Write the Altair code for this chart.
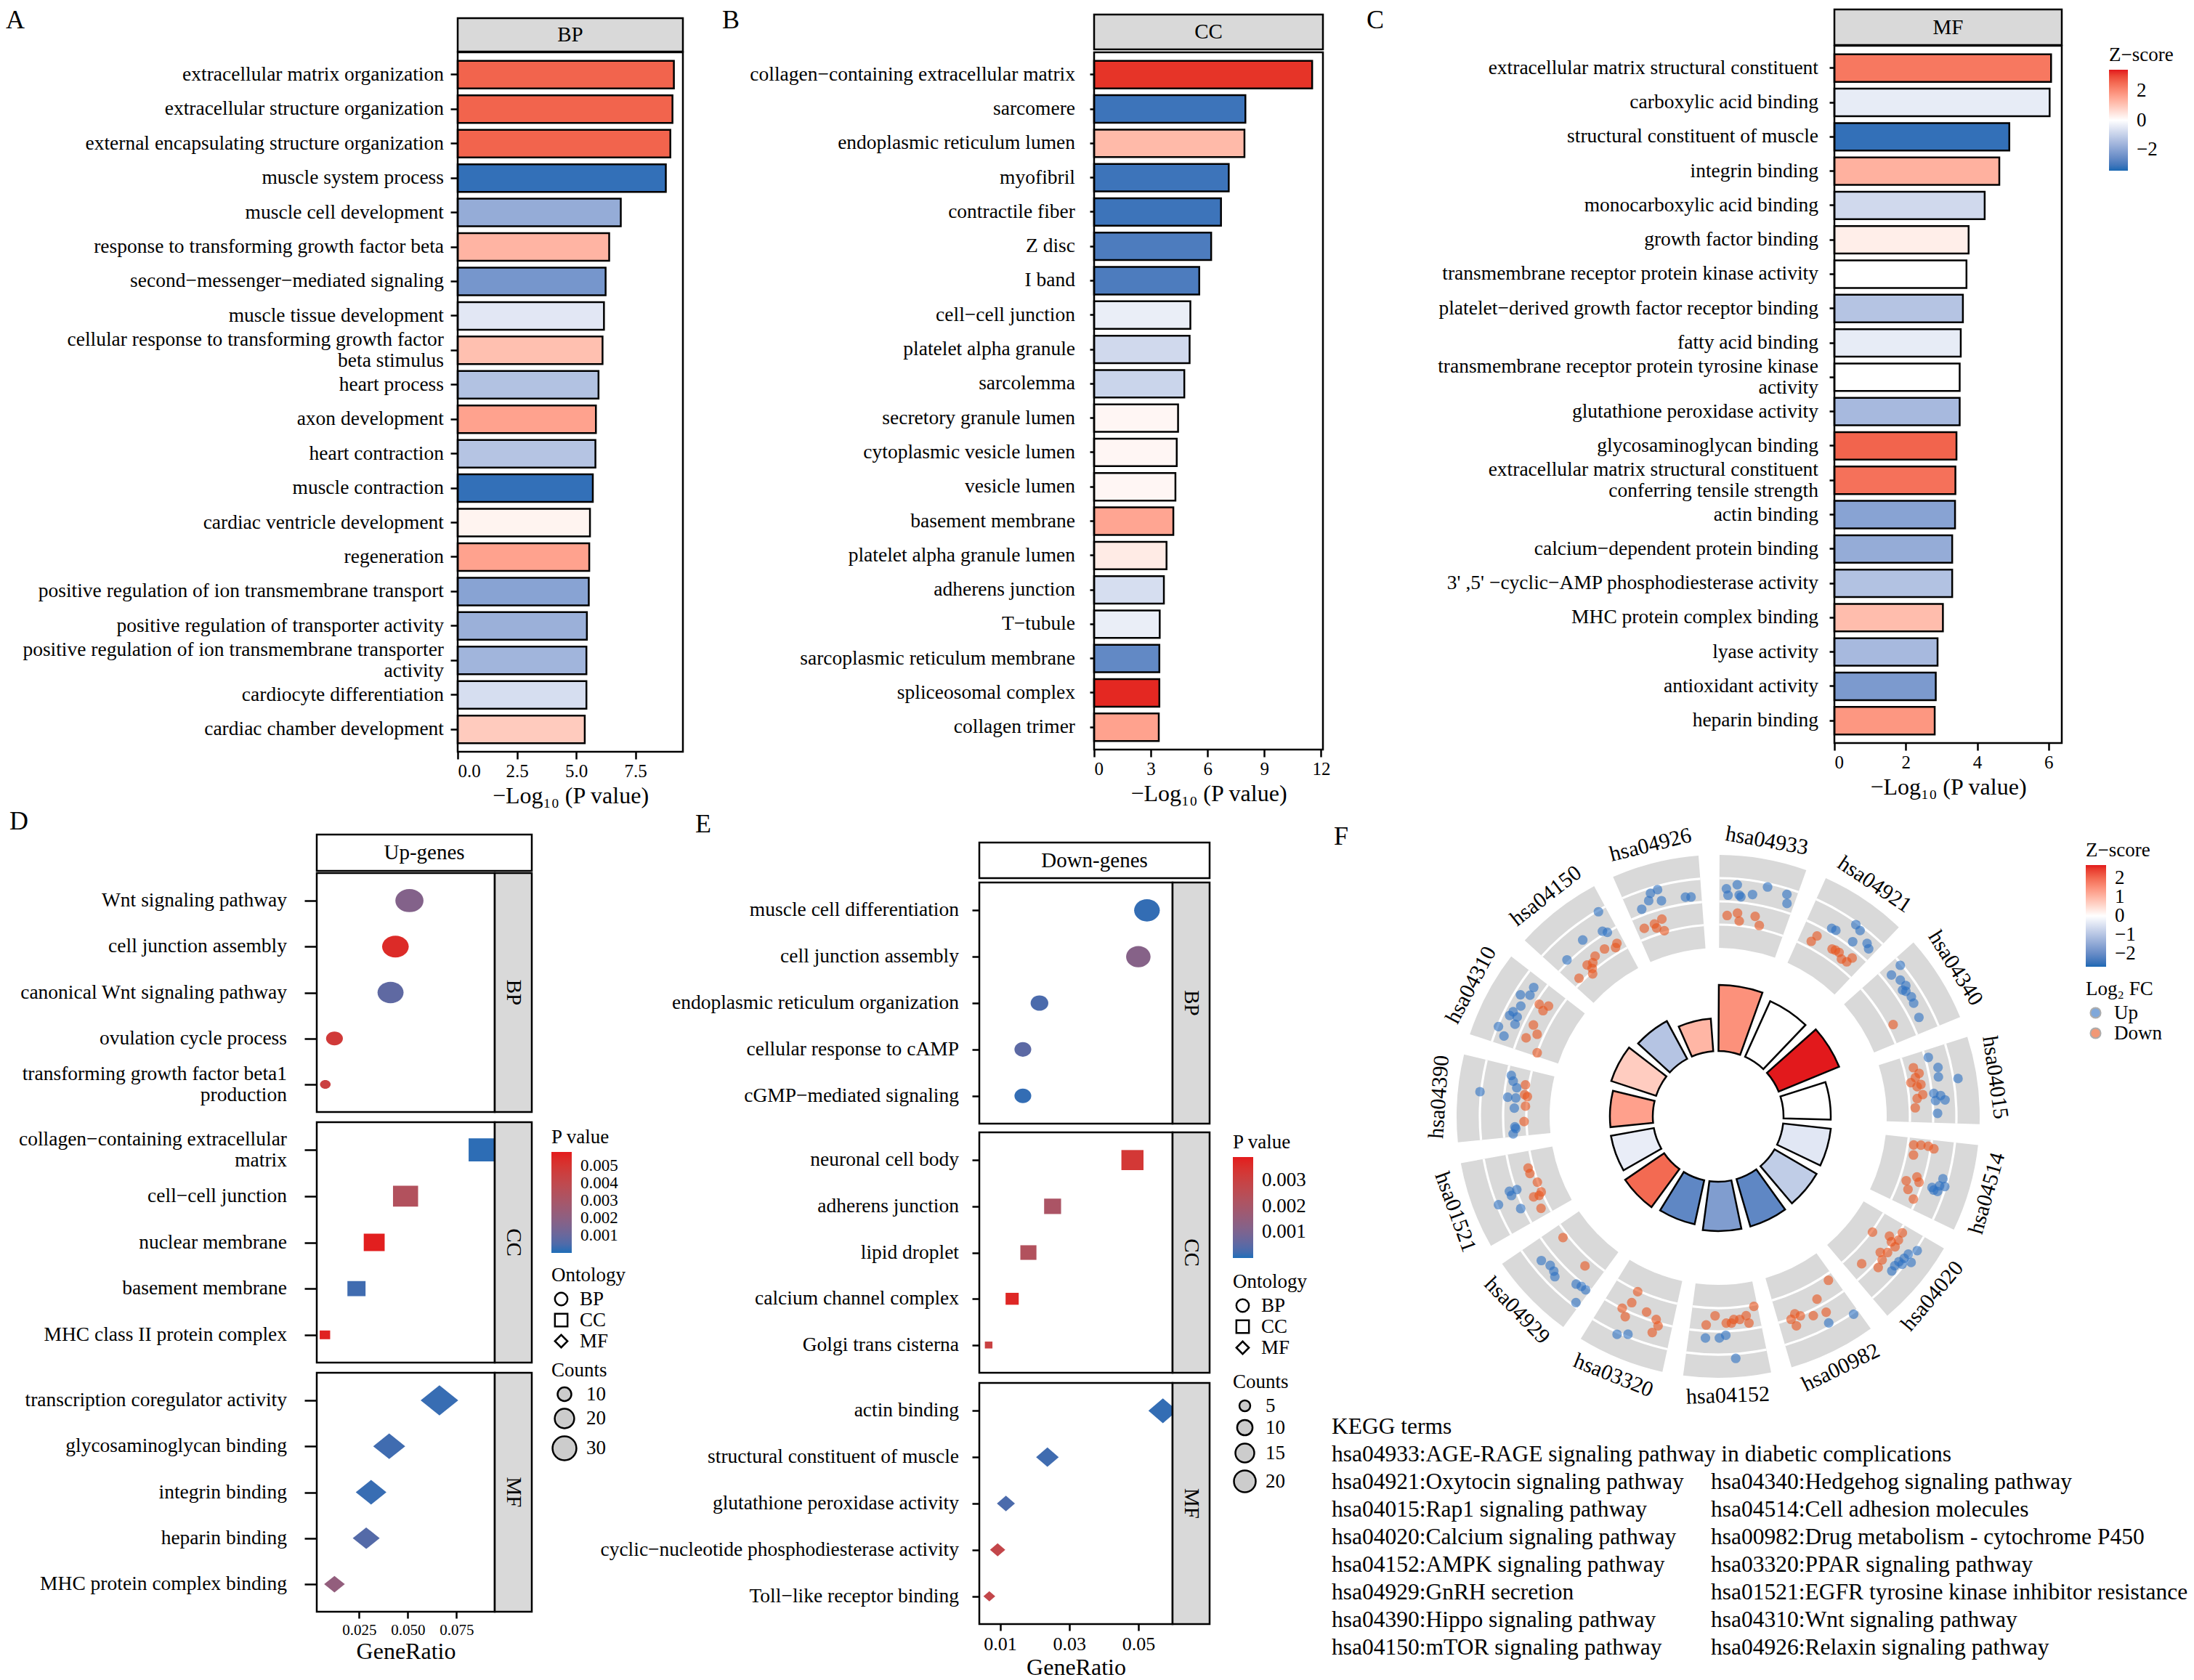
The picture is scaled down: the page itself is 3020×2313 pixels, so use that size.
import math
import altair as alt
import pandas as pd

FONT = "Liberation Serif"
Z_LOW, Z_HIGH = "#1b68b3", "#e2191c"
P_LOW, P_HIGH = "#1f6eb8", "#e41a1c"
STRIP_GREY = "#d9d9d9"
UP_COL, DOWN_COL = "#2c6fc2", "#e8541c"

# ---------------- A: GO BP ----------------
bp_terms = ["extracellular matrix organization", "extracellular structure organization",
            "external encapsulating structure organization", "muscle system process",
            "muscle cell development", "response to transforming growth factor beta",
            "second−messenger−mediated signaling", "muscle tissue development",
            "cellular response to transforming growth factor|beta stimulus", "heart process",
            "axon development", "heart contraction", "muscle contraction",
            "cardiac ventricle development", "regeneration",
            "positive regulation of ion transmembrane transport",
            "positive regulation of transporter activity",
            "positive regulation of ion transmembrane transporter|activity",
            "cardiocyte differentiation", "cardiac chamber development"]
bp_logp = [9.12, 9.06, 8.97, 8.78, 6.88, 6.39, 6.24, 6.17, 6.11, 5.94,
           5.83, 5.81, 5.70, 5.58, 5.55, 5.53, 5.45, 5.43, 5.43, 5.36]
bp_z = [2.6, 2.6, 2.6, -3.2, -1.8, 1.3, -2.3, -0.5, 1.1, -1.3,
        1.6, -1.25, -3.2, 0.2, 1.6, -2.0, -1.7, -1.6, -0.7, 0.9]

# ---------------- B: GO CC ----------------
cc_terms = ["collagen−containing extracellular matrix", "sarcomere", "endoplasmic reticulum lumen",
            "myofibril", "contractile fiber", "Z disc", "I band", "cell−cell junction",
            "platelet alpha granule", "sarcolemma", "secretory granule lumen",
            "cytoplasmic vesicle lumen", "vesicle lumen", "basement membrane",
            "platelet alpha granule lumen", "adherens junction", "T−tubule",
            "sarcoplasmic reticulum membrane", "spliceosomal complex", "collagen trimer"]
cc_logp = [11.53, 8.0, 7.95, 7.12, 6.71, 6.19, 5.56, 5.09, 5.05, 4.77,
           4.44, 4.37, 4.30, 4.19, 3.83, 3.69, 3.47, 3.45, 3.45, 3.42]
cc_z = [3.2, -3.1, 1.2, -3.1, -3.1, -2.9, -2.9, -0.35, -0.8, -0.9,
        0.15, 0.15, 0.15, 1.55, 0.35, -0.7, -0.35, -2.6, 3.3, 1.6]

# ---------------- C: GO MF ----------------
mf_terms = ["extracellular matrix structural constituent", "carboxylic acid binding",
            "structural constituent of muscle", "integrin binding", "monocarboxylic acid binding",
            "growth factor binding", "transmembrane receptor protein kinase activity",
            "platelet−derived growth factor receptor binding", "fatty acid binding",
            "transmembrane receptor protein tyrosine kinase|activity",
            "glutathione peroxidase activity", "glycosaminoglycan binding",
            "extracellular matrix structural constituent|conferring tensile strength",
            "actin binding", "calcium−dependent protein binding",
            "3' ,5' −cyclic−AMP phosphodiesterase activity", "MHC protein complex binding",
            "lyase activity", "antioxidant activity", "heparin binding"]
mf_logp = [6.07, 6.03, 4.90, 4.62, 4.21, 3.76, 3.70, 3.60, 3.54, 3.51,
           3.51, 3.42, 3.39, 3.38, 3.30, 3.30, 3.04, 2.89, 2.84, 2.81]
mf_z = [2.3, -0.4, -3.2, 1.35, -0.8, 0.3, 0.0, -1.25, -0.4, 0.0,
        -1.5, 2.6, 2.4, -2.0, -1.8, -1.3, 1.15, -1.5, -2.2, 1.8]

# ---------------- D: Up-genes ----------------
up_bp_terms = ["Wnt signaling pathway", "cell junction assembly", "canonical Wnt signaling pathway",
               "ovulation cycle process", "transforming growth factor beta1|production"]
up_bp_ratio = [0.0508, 0.0436, 0.0411, 0.0123, 0.0076]
up_bp_p = [0.0017, 0.0054, 0.0008, 0.0048, 0.0045]
up_bp_count = [28, 25, 24, 10, 4]

up_cc_terms = ["collagen−containing extracellular|matrix", "cell−cell junction", "nuclear membrane",
               "basement membrane", "MHC class II protein complex"]
up_cc_ratio = [0.0883, 0.0488, 0.0327, 0.0236, 0.0074]
up_cc_p = [0.0001, 0.0034, 0.0057, 0.0003, 0.0056]
up_cc_count = [28, 23, 16, 12, 4]

up_mf_terms = ["transcription coregulator activity", "glycosaminoglycan binding", "integrin binding",
               "heparin binding", "MHC protein complex binding"]
up_mf_ratio = [0.0662, 0.0404, 0.0311, 0.0286, 0.0123]
up_mf_p = [0.0002, 0.0003, 0.0002, 0.0006, 0.0022]
up_mf_count = [33, 24, 22, 17, 10]

# ---------------- E: Down-genes ----------------
dn_bp_terms = ["muscle cell differentiation", "cell junction assembly",
               "endoplasmic reticulum organization", "cellular response to cAMP",
               "cGMP−mediated signaling"]
dn_bp_ratio = [0.0525, 0.0500, 0.0214, 0.0166, 0.0166]
dn_bp_p = [0.0001, 0.0012, 0.0003, 0.0005, 0.0001]
dn_bp_count = [21, 19, 10, 9, 9]

dn_cc_terms = ["neuronal cell body", "adherens junction", "lipid droplet",
               "calcium channel complex", "Golgi trans cisterna"]
dn_cc_ratio = [0.0483, 0.0252, 0.0182, 0.0135, 0.0067]
dn_cc_p = [0.0033, 0.0021, 0.0023, 0.0037, 0.0030]
dn_cc_count = [17, 10, 9, 6, 2]

dn_mf_terms = ["actin binding", "structural constituent of muscle", "glutathione peroxidase activity",
               "cyclic−nucleotide phosphodiesterase activity", "Toll−like receptor binding"]
dn_mf_ratio = [0.0571, 0.0237, 0.0117, 0.0093, 0.0069]
dn_mf_p = [0.0001, 0.0002, 0.0003, 0.0028, 0.0028]
dn_mf_count = [18, 11, 7, 5, 3]

# ---------------- F: KEGG circle ----------------
kegg_ids = ["hsa04933", "hsa04921", "hsa04340", "hsa04015", "hsa04514", "hsa04020", "hsa00982",
            "hsa04152", "hsa03320", "hsa04929", "hsa01521", "hsa04390", "hsa04310", "hsa04150",
            "hsa04926"]
kegg_height = [9.1, 8.4, 9.0, 6.5, 6.6, 6.7, 6.8, 6.8, 6.2, 6.5, 6.0, 5.9, 6.5, 5.9, 4.5]
kegg_z = [1.5, 0.0, 2.7, 0.0, -0.4, -0.85, -2.1, -1.7, -2.1, 2.0, -0.3, 1.3, 0.7, -1.0, 1.0]
grid_lfc = [-2, 0, 2]

# gene points per term: (position within sector, log2FC)
up_04933 = [(-0.33, 1.1), (-0.22, 1.5), (-0.19, 0.63), (-0.31, 0.55), (-0.05, 0.82), (-0.17, 0.49), (0.09, 1.69), (0.30, 1.5), (0.33, 0.75)]
dn_04933 = [(-0.31, -1.2), (-0.19, -0.93), (-0.16, -1.6), (0.02, -1.0), (0.09, -1.7)]
up_04921 = [(-0.07, 0.44), (0.07, 1.81), (0.14, 1.62), (0.15, 0.47), (0.28, 1.14), (0.33, 0.88), (-0.12, 0.4)]
dn_04921 = [(-0.25, -1.44), (-0.22, -0.8), (0.01, -1.08), (0.10, -0.97), (0.17, -1.3), (0.24, -1.2), (0.26, -0.65), (0.05, -1.0)]
up_04340 = [(-0.32, 1.86), (-0.30, 0.74), (-0.20, 1.07), (-0.12, 1.18), (-0.07, 0.91), (0.01, 1.05), (0.08, 0.94), (0.24, 0.76), (-0.10, 0.73)]
dn_04340 = [(0.18, -1.5)]
up_04015 = [(-0.32, 0.28), (-0.19, 0.88), (-0.09, 0.75), (-0.04, 2.39), (0.08, 0.16), (0.11, 0.72), (0.16, 1.07), (0.16, 0.26), (0.30, 0.38)]
dn_04015 = [(-0.25, -1.19), (-0.17, -0.82), (-0.13, -1.21), (-0.08, -1.67), (-0.04, -0.84), (-0.02, -1.19), (0.08, -0.8), (0.12, -1.31), (0.23, -1.53)]
up_04514 = [(-0.02, 1.57), (0.06, 1.45), (0.12, 1.1), (0.05, 1.91), (0.10, 0.89), (0.12, 1.45)]
dn_04514 = [(-0.20, -1.37), (-0.33, -0.88), (-0.33, -0.24), (-0.31, 0.27), (-0.32, -1.5), (0.04, -0.62), (0.12, -1.4), (0.21, -1.0), (0.29, -0.26), (0.09, -0.31)]
up_04020 = [(-0.11, 1.63), (-0.12, 2.32), (-0.17, 1.7), (-0.25, 2.16), (-0.05, 1.45), (0.07, 1.5), (0.01, 1.4), (-0.05, 1.81)]
dn_04020 = [(-0.13, -1.9), (-0.21, -0.52), (-0.32, 0.25), (-0.17, -0.1), (-0.23, 0.31), (-0.05, 0.2), (0.0, -0.29), (0.05, 0.25), (0.24, -0.8), (0.14, 0.44), (-0.15, 0.41)]
up_00982 = [(-0.35, 2.13), (-0.09, 1.66)]
dn_00982 = [(-0.33, -1.5), (-0.10, -0.62), (-0.12, 0.74), (0.02, 0.5), (0.20, -0.27), (0.26, 0.06), (0.23, 0.74), (0.15, 0.06)]
up_04152 = [(0.22, 0.6), (0.07, 0.57), (0.0, 0.35), (-0.09, 2.38)]
dn_04152 = [(-0.36, -1.86), (-0.25, -1.18), (-0.17, -0.93), (-0.07, -0.68), (-0.01, -0.7), (0.12, -1.34), (0.22, -0.52), (-0.27, -0.52), (-0.10, -0.97)]
up_03320 = [(0.12, 2.17), (0.02, 1.79)]
dn_03320 = [(0.11, -1.9), (0.12, -0.83), (0.19, -0.04), (0.12, 0.5), (-0.08, -0.57), (-0.21, -0.23), (-0.25, 0.25), (-0.21, 0.94)]
up_04929 = [(0.2, 1.13), (0.1, 0.82), (0.03, 0.92), (-0.02, 1.19), (-0.24, 0.41), (-0.3, 0.28), (-0.36, 0.28), (-0.36, 1.66)]
dn_04929 = [(0.25, -1.56), (-0.18, -1.27)]
up_01521 = [(0.01, 0.58), (0.0, -0.07), (-0.08, 1.87), (-0.21, 0.25), (-0.04, 0.54)]
dn_01521 = [(0.2, -1.56), (0.13, -1.58), (0.0, -1.95), (-0.13, -1.95), (-0.15, -1.18), (-0.31, -1.33), (-0.16, -1.67)]
up_04390 = [(0.08, 2.1), (0.3, -0.36), (0.24, -0.61), (0.17, -1.0), (0.05, -0.32), (0.05, -1.02), (-0.07, -0.95), (-0.29, -0.99), (-0.37, -0.8), (-0.31, -1.06)]
dn_04390 = [(0.22, -1.7), (0.1, -1.75), (-0.04, -1.9), (-0.23, -1.8), (0.08, -2.0)]
up_04310 = [(0.29, 0.86), (0.15, 1.47), (0.2, 0.76), (0.05, 0.95), (-0.04, 1.3), (-0.09, 1.43), (-0.07, 0.79), (-0.15, 0.69), (-0.24, 1.92), (-0.31, 1.18)]
dn_04310 = [(0.17, -0.33), (0.21, -1.09), (0.13, -0.9), (-0.07, -0.77), (-0.15, -1.4), (-0.24, -0.65), (-0.36, -2.0)]
up_04150 = [(0.32, 1.9), (0.25, 0.28), (0.29, -0.02), (0.02, 0.63), (-0.25, 0.22)]
dn_04150 = [(0.32, -1.25), (0.28, -1.5), (0.16, -1.09), (0.02, -1.12), (-0.05, -1.44), (-0.12, -1.28), (-0.1, -1.78), (-0.14, -2.16), (-0.3, -1.63)]
up_04926 = [(-0.04, 1.69), (-0.12, 1.56), (-0.26, 0.5), (-0.16, 1.0), (-0.03, 0.69), (0.23, 0.58), (0.29, 0.52)]
dn_04926 = [(-0.31, -1.12), (-0.18, -1.06), (-0.08, -0.85), (-0.17, -1.44), (-0.09, -1.87)]

up_sets = [up_04933, up_04921, up_04340, up_04015, up_04514, up_04020, up_00982, up_04152,
           up_03320, up_04929, up_01521, up_04390, up_04310, up_04150, up_04926]
dn_sets = [dn_04933, dn_04921, dn_04340, dn_04015, dn_04514, dn_04020, dn_00982, dn_04152,
           dn_03320, dn_04929, dn_01521, dn_04390, dn_04310, dn_04150, dn_04926]

kegg_left = ["KEGG terms",
             "hsa04933:AGE-RAGE signaling pathway in diabetic complications",
             "hsa04921:Oxytocin signaling pathway", "hsa04015:Rap1 signaling pathway",
             "hsa04020:Calcium signaling pathway", "hsa04152:AMPK signaling pathway",
             "hsa04929:GnRH secretion", "hsa04390:Hippo signaling pathway",
             "hsa04150:mTOR signaling pathway"]
kegg_right = ["hsa04340:Hedgehog signaling pathway", "hsa04514:Cell adhesion molecules",
              "hsa00982:Drug metabolism - cytochrome P450", "hsa03320:PPAR signaling pathway",
              "hsa01521:EGFR tyrosine kinase inhibitor resistance", "hsa04310:Wnt signaling pathway",
              "hsa04926:Relaxin signaling pathway"]

# ---------------- layout helpers (one big canvas) ----------------
VW, VH = 3004, 2305


def px(v):
    """reference-figure pixel -> canvas pixel (page has an 8px margin)"""
    return v - 8


def one(text):
    return pd.DataFrame({"lab": [text]})


def box(x0, x1, y0, y1, fill="transparent", sw=2.5):
    return alt.Chart(one("")).mark_rect(fill=fill, stroke="black", strokeWidth=sw).encode(
        x=alt.value(px(x0)), x2=alt.value(px(x1)), y=alt.value(px(y0)), y2=alt.value(px(y1)))


def label(text, x, y, size, angle=0):
    return alt.Chart(one(text)).mark_text(fontSize=size, align="center", baseline="middle",
                                          angle=angle, font=FONT, color="black").encode(
        x=alt.value(px(x)), y=alt.value(px(y)), text="lab:N")


def term_labels(df, yenc, xr, size, half):
    base = alt.Chart(df)
    kw = dict(align="right", baseline="middle", fontSize=size, font=FONT, color="black")
    single = base.transform_filter("indexof(datum.term, '|') < 0").mark_text(**kw).encode(
        x=alt.value(px(xr)), y=yenc, text="term:N")
    two = base.transform_filter("indexof(datum.term, '|') >= 0").transform_calculate(
        l1="split(datum.term, '|')[0]", l2="split(datum.term, '|')[1]")
    t1 = two.mark_text(dy=-half, **kw).encode(x=alt.value(px(xr)), y=yenc, text="l1:N")
    t2 = two.mark_text(dy=half, **kw).encode(x=alt.value(px(xr)), y=yenc, text="l2:N")
    return [single, t1, t2]


zscale = alt.Scale(domain=[-3.4, 0, 3.4], range=[Z_LOW, "#ffffff", Z_HIGH], interpolate="lab")


def bar_panel(terms, vals, zs, xmax, ticks, fmt, x0, x1, y0, y1, tick_len, lab_right, legend,
              strip_txt, sy0, sy1):
    df = pd.DataFrame({"term": terms, "val": vals, "z": zs})
    yaxis = alt.Axis(orient="left", offset=-px(x0), labels=False, tickSize=tick_len, title=None)
    yenc = alt.Y("term:N", sort=terms,
                 scale=alt.Scale(range=[px(y0), px(y1)], paddingInner=0.2, paddingOuter=0.25),
                 axis=yaxis)
    bars = alt.Chart(df).mark_bar(stroke="black", strokeWidth=2.5).encode(
        x=alt.X("val:Q", scale=alt.Scale(domain=[0, xmax], range=[px(x0), px(x1)], nice=False,
                                         zero=True),
                axis=alt.Axis(orient="bottom", offset=-(VH - px(y1)), values=ticks, format=fmt,
                              title="−Log₁₀ (P value)", labelFontSize=25, titleFontSize=32,
                              tickSize=10, labelPadding=4, titlePadding=6)),
        y=yenc,
        color=alt.Color("z:Q", scale=zscale, legend=legend))
    layers = [bars] + term_labels(df, yenc, lab_right, 27.5, 14.5)
    layers += [box(x0, x1, y0, y1), box(x0, x1, sy0, sy1, STRIP_GREY),
               label(strip_txt, (x0 + x1) / 2, (sy0 + sy1) / 2, 29)]
    return alt.layer(*layers)


ELL_D = "M-1.22,0A1.22,1,0,1,1,1.22,0A1.22,1,0,1,1,-1.22,0Z"
ELL_E = "M-1.15,0A1.15,1,0,1,1,1.15,0A1.15,1,0,1,1,-1.15,0Z"
RECT_D = "M-1.2,-1L1.2,-1L1.2,1L-1.2,1Z"
RECT_E = "M-1.1,-1L1.1,-1L1.1,1L-1.1,1Z"
DIAM_D = "M-1.5,0L0,-1.2L1.5,0L0,1.2Z"
DIAM_E = "M-1.4,0L0,-1.2L1.4,0L0,1.2Z"


def dot_facet(terms, ratio, pv, cnt, shape, x0, x1, y0, y1, xdom, pdom, smax, sk, xaxis,
              tick_len, lab_right, strip_txt, legends=None):
    df = pd.DataFrame({"term": terms, "ratio": ratio, "p": pv, "n": cnt})
    cleg, sleg, oleg = (legends if legends is not None else (None, None, None))
    yaxis = alt.Axis(orient="left", offset=-px(x0), labels=False, tickSize=tick_len, title=None)
    yenc = alt.Y("term:N", sort=terms, scale=alt.Scale(range=[px(y0), px(y1)], padding=0.6),
                 axis=yaxis)
    pts = alt.Chart(df).mark_point(filled=True, shape=shape, opacity=1).encode(
        x=alt.X("ratio:Q", scale=alt.Scale(domain=xdom, range=[px(x0), px(x1)], nice=False,
                                           zero=False), axis=xaxis),
        y=yenc,
        color=alt.Color("p:Q", scale=alt.Scale(domain=pdom, range=[P_LOW, P_HIGH],
                                               interpolate="lab"), legend=cleg),
        size=alt.Size("n:Q", scale=alt.Scale(type="linear", domain=[0, smax],
                                             range=[0, smax * sk]), legend=sleg))
    layers = []
    if oleg is not None:
        ont = pd.DataFrame({"Ontology": ["BP", "CC", "MF"]})
        dummy = alt.Chart(ont).mark_point(filled=False, color="black", opacity=1,
                                          strokeWidth=2.5).encode(
            x=alt.value(px(x1 + 25)), y=alt.value(px(y0 + 30)),
            shape=alt.Shape("Ontology:N",
                            scale=alt.Scale(domain=["BP", "CC", "MF"],
                                            range=["circle", "square", "diamond"]),
                            legend=oleg))
        layers.append(dummy)
    layers += [pts] + term_labels(df, yenc, lab_right, 27.5, 14.5)
    layers += [box(x0, x1, y0, y1), box(x1, x1 + 51, y0, y1, STRIP_GREY),
               label(strip_txt, x1 + 25.5, (y0 + y1) / 2, 29, angle=90)]
    return alt.layer(*layers)


def legends_for(lx, ly_c, ly_o, ly_s, pvals, svals, plab):
    cleg = alt.Legend(title="P value", orient="none", legendX=px(lx), legendY=px(ly_c),
                      direction="vertical", values=pvals, format=".3f", gradientLength=139,
                      gradientThickness=28, labelOverlap=False, labelOffset=12, titlePadding=6,
                      labelFontSize=plab)
    sleg = alt.Legend(title="Counts", orient="none", legendX=px(lx), legendY=px(ly_s),
                      values=svals, symbolType="circle", symbolFillColor="#cccccc",
                      symbolStrokeColor="black", symbolStrokeWidth=2.5, symbolOpacity=1,
                      labelOffset=12, rowPadding=0)
    oleg = alt.Legend(title="Ontology", orient="none", legendX=px(lx), legendY=px(ly_o),
                      symbolSize=300, symbolStrokeColor="black", symbolStrokeWidth=2.5,
                      symbolOpacity=1, labelOffset=12, rowPadding=0)
    return cleg, sleg, oleg


layers = []

# ---------------- A, B, C ----------------
zleg = alt.Legend(title="Z−score", orient="none", legendX=px(2903), legendY=px(63),
                  direction="vertical", values=[-2, 0, 2], gradientLength=139,
                  gradientThickness=26, labelOverlap=False, labelOffset=12, titlePadding=6)
layers.append(bar_panel(bp_terms, bp_logp, bp_z, 9.5, [0, 2.5, 5, 7.5], ".1f",
                        630, 940, 72, 1035, 10, 611, None, "BP", 25, 71))
layers.append(bar_panel(cc_terms, cc_logp, cc_z, 12.1, [0, 3, 6, 9, 12], "d",
                        1506, 1821, 72, 1032, 6, 1480, None, "CC", 20, 68))
layers.append(bar_panel(mf_terms, mf_logp, mf_z, 6.37, [0, 2, 4, 6], "d",
                        2525, 2838, 63, 1023, 7, 2503, zleg, "MF", 13, 62))

# ---------------- D ----------------
D_XDOM = [0.0032, 0.0946]
D_PDOM = [0.0, 0.0058]
d_axis = alt.Axis(orient="bottom", offset=-(VH - px(2219)), values=[0.025, 0.05, 0.075],
                  format=".3f", title="GeneRatio", labelFontSize=21, titleFontSize=32,
                  tickSize=9, labelPadding=5, titlePadding=4)
d_leg = legends_for(759, 1553, 1743, 1874, [0.001, 0.002, 0.003, 0.004, 0.005], [10, 20, 30], 23)
layers.append(dot_facet(up_bp_terms, up_bp_ratio, up_bp_p, up_bp_count, ELL_D, 436, 681, 1202, 1531,
                        D_XDOM, D_PDOM, 40, 36, None, 17, 395, "BP"))
layers.append(dot_facet(up_cc_terms, up_cc_ratio, up_cc_p, up_cc_count, RECT_D, 436, 681, 1545, 1876,
                        D_XDOM, D_PDOM, 40, 36, None, 17, 395, "CC", d_leg))
layers.append(dot_facet(up_mf_terms, up_mf_ratio, up_mf_p, up_mf_count, DIAM_D, 436, 681, 1890, 2219,
                        D_XDOM, D_PDOM, 40, 36, d_axis, 17, 395, "MF"))
layers += [box(436, 732, 1149, 1199, "white"), label("Up-genes", 584, 1174, 29)]

# ---------------- E ----------------
E_XDOM = [0.004, 0.0599]
E_PDOM = [0.0, 0.0039]
e_axis = alt.Axis(orient="bottom", offset=-(VH - px(2236)), values=[0.01, 0.03, 0.05],
                  format=".2f", title="GeneRatio", labelFontSize=26, titleFontSize=32,
                  tickSize=9, labelPadding=5, titlePadding=4)
e_leg = legends_for(1697, 1560, 1752, 1890, [0.001, 0.002, 0.003], [5, 10, 15, 20], 27)
layers.append(dot_facet(dn_bp_terms, dn_bp_ratio, dn_bp_p, dn_bp_count, ELL_E, 1348, 1614, 1215, 1547,
                        E_XDOM, E_PDOM, 25, 45, None, 10, 1320, "BP"))
layers.append(dot_facet(dn_cc_terms, dn_cc_ratio, dn_cc_p, dn_cc_count, RECT_E, 1348, 1614, 1559, 1890,
                        E_XDOM, E_PDOM, 25, 45, None, 10, 1320, "CC", e_leg))
layers.append(dot_facet(dn_mf_terms, dn_mf_ratio, dn_mf_p, dn_mf_count, DIAM_E, 1348, 1614, 1904, 2236,
                        E_XDOM, E_PDOM, 25, 45, e_axis, 10, 1320, "MF"))
layers += [box(1348, 1665, 1160, 1209, "white"), label("Down-genes", 1506.5, 1184.5, 29)]

# ---------------- F ----------------
CX, CY = px(2365), px(1537)
NK = len(kegg_ids)
OFF0 = 10 / 24
HALF = 0.404
theta_scale = alt.Scale(domain=[-OFF0, NK - OFF0], range=[0, 2 * math.pi], zero=False)
f_df = pd.DataFrame({"term": kegg_ids, "h": kegg_height, "z": kegg_z, "idx": list(range(NK))})
grid_df = pd.DataFrame([{"idx": i, "g": g} for i in range(NK) for g in grid_lfc])
pt_rows = []
for i in range(NK):
    for off, lfc in up_sets[i]:
        pt_rows.append({"idx": i, "off": off, "lfc": lfc, "dir": "Up"})
    for off, lfc in dn_sets[i]:
        pt_rows.append({"idx": i, "off": off, "lfc": lfc, "dir": "Down"})
pt_df = pd.DataFrame(pt_rows)

sectors = alt.Chart(f_df).transform_calculate(
    t0=f"datum.idx - {HALF}", t1=f"datum.idx + {HALF}"
).mark_arc(color=STRIP_GREY).encode(
    x=alt.value(CX), y=alt.value(CY),
    theta=alt.Theta("t0:Q", scale=theta_scale, stack=False), theta2="t1:Q",
    radius=alt.value(360), radius2=alt.value(232))

grid = alt.Chart(grid_df).transform_calculate(
    t0=f"datum.idx - {HALF}", t1=f"datum.idx + {HALF}",
    r0="datum.g - 0.1", r1="datum.g + 0.1"
).mark_arc(color="white").encode(
    x=alt.value(CX), y=alt.value(CY),
    theta=alt.Theta("t0:Q", scale=theta_scale, stack=False), theta2="t1:Q",
    radius=alt.Radius("r1:Q", scale=alt.Scale(type="linear", domain=[-4, 4], range=[232, 360],
                                               zero=False)),
    radius2="r0:Q")

points = alt.Chart(pt_df).transform_calculate(
    ang=f"(datum.idx + datum.off + {OFF0}) * 2 * PI / {NK}",
    rr="datum.lfc + 18.5",
    fx="datum.rr * sin(datum.ang)",
    fy="datum.rr * cos(datum.ang)"
).mark_circle(opacity=0.6, size=175).encode(
    x=alt.X("fx:Q", scale=alt.Scale(domain=[-25, 25], range=[CX - 400, CX + 400], nice=False,
                                    zero=False), axis=None),
    y=alt.Y("fy:Q", scale=alt.Scale(domain=[-25, 25], range=[CY + 400, CY - 400], nice=False,
                                    zero=False), axis=None),
    color=alt.Color("dir:N", scale=alt.Scale(domain=["Up", "Down"], range=[UP_COL, DOWN_COL]),
                    legend=alt.Legend(title="Log₂ FC", orient="none", legendX=px(2871),
                                      legendY=px(1349), symbolSize=200,
                                      symbolStrokeColor="#777777", symbolStrokeWidth=2,
                                      labelOffset=12, rowPadding=0)))

inner = alt.Chart(f_df).transform_calculate(
    t0=f"datum.idx - {HALF}", t1=f"datum.idx + {HALF}"
).mark_arc(stroke="black", strokeWidth=2.5).encode(
    x=alt.value(CX), y=alt.value(CY),
    theta=alt.Theta("t0:Q", scale=theta_scale, stack=False), theta2="t1:Q",
    radius=alt.Radius("h:Q", scale=alt.Scale(type="linear", domain=[0, 10], range=[90, 190],
                                              zero=False)),
    radius2=alt.value(90),
    color=alt.Color("z:Q", scale=alt.Scale(domain=[-2.7, 0, 2.7], range=[Z_LOW, "#ffffff", Z_HIGH],
                                           interpolate="lab"),
                    legend=alt.Legend(title="Z−score", orient="none", legendX=px(2871),
                                      legendY=px(1158), direction="vertical",
                                      values=[-2, -1, 0, 1, 2], gradientLength=140,
                                      gradientThickness=28, labelOverlap=False, labelOffset=12,
                                      titlePadding=6)))

tlabels = alt.Chart(f_df).transform_calculate(
    deg=f"{OFF0 * 24} + 24 * datum.idx",
    ang="(datum.deg > 90 && datum.deg < 270) ? (datum.deg + 180) % 360 : datum.deg"
).mark_text(fontSize=30, font=FONT, color="black").encode(
    x=alt.value(CX), y=alt.value(CY),
    theta=alt.Theta("idx:Q", scale=theta_scale, stack=False),
    radius=alt.value(385),
    text="term:N",
    angle=alt.Angle("ang:Q", scale=None))

layers.append(alt.layer(sectors, grid, points, inner, tlabels).resolve_scale(
    radius="independent", color="independent"))

kegg_df = pd.DataFrame({"col": [0] * len(kegg_left) + [1] * len(kegg_right),
                        "row": list(range(len(kegg_left))) + list(range(2, 2 + len(kegg_right))),
                        "txt": kegg_left + kegg_right})
layers.append(alt.Chart(kegg_df).mark_text(align="left", baseline="middle", fontSize=31.5,
                                           font=FONT, color="black").encode(
    x=alt.X("col:Q", scale=alt.Scale(domain=[0, 1], range=[px(1833), px(2355)]), axis=None),
    y=alt.Y("row:Q", scale=alt.Scale(domain=[0, 8], range=[px(1965), px(2269)]), axis=None),
    text="txt:N"))

# ---------------- panel letters ----------------
for ch, lx, ly in [("A", 21, 28), ("B", 1006, 28), ("C", 1893, 28), ("D", 26, 1131),
                   ("E", 968, 1135), ("F", 1846, 1152)]:
    layers.append(label(ch, lx, ly, 36))

chart = alt.layer(*layers).resolve_scale(
    x="independent", y="independent", color="independent", size="independent",
    shape="independent", radius="independent"
).properties(
    width=VW, height=VH, autosize=alt.AutoSizeParams(type="none"), padding=0
).configure(font=FONT).configure_view(stroke="transparent").configure_axis(
    labelFont=FONT, titleFont=FONT, labelColor="black", titleColor="black", tickColor="black",
    tickWidth=2.5, grid=False, domain=False, titleFontWeight="normal"
).configure_legend(
    titleFont=FONT, labelFont=FONT, titleFontSize=27, labelFontSize=27, titleFontWeight="normal",
    titleColor="black", labelColor="black", padding=0
).configure_text(font=FONT)

chart.save("out.html", embed_options={"renderer": "svg", "actions": False})
